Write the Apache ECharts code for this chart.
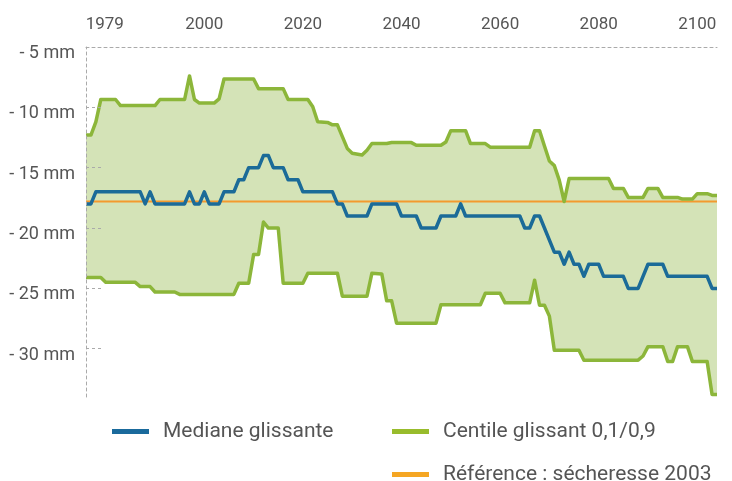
<!DOCTYPE html>
<html>
<head>
<meta charset="utf-8">
<script src="https://cdn.jsdelivr.net/npm/echarts@6/dist/echarts.min.js"></script>
<style>
html,body{margin:0;padding:0;background:#fff;}
#chart{width:732px;height:481px;}
</style>
</head>
<body>
<div id="chart"></div>
<script>
// ---- data (years, mm) ----
const p90Years = [1976,1977,1978,1979,1982,1983,1990,1991,1996,1997,1998,1999,2002,2003,2004,2010,2011,2016,2017,2021,2022,2023,2025,2026,2027,2029,2030,2032,2033,2034,2037,2038,2042,2043,2048,2049,2050,2053,2054,2057,2058,2066,2067,2068,2069,2070,2071,2072,2073,2074,2082,2083,2085,2086,2089,2090,2092,2093,2096,2097,2099,2100,2102,2103,2104];
const p90Values = [-12.3,-12.3,-11.2,-9.35,-9.35,-9.85,-9.85,-9.35,-9.35,-7.4,-9.35,-9.65,-9.65,-9.3,-7.65,-7.65,-8.45,-8.45,-9.35,-9.35,-9.95,-11.2,-11.25,-11.45,-11.45,-13.4,-13.8,-13.95,-13.55,-13.0,-13.0,-12.92,-12.92,-13.14,-13.14,-12.87,-11.93,-11.93,-13.0,-13.0,-13.3,-13.3,-11.93,-11.93,-13.2,-14.45,-14.83,-16.03,-17.8,-15.9,-15.9,-16.72,-16.72,-17.46,-17.46,-16.72,-16.72,-17.46,-17.46,-17.6,-17.6,-17.15,-17.15,-17.3,-17.3];

const p10Years = [1976,1979,1980,1986,1987,1989,1990,1994,1995,2006,2007,2009,2010,2011,2012,2013,2015,2016,2020,2021,2027,2028,2033,2034,2036,2037,2038,2039,2047,2048,2056,2057,2060,2061,2066,2067,2068,2069,2070,2071,2076,2077,2088,2089,2090,2093,2094,2095,2096,2098,2099,2102,2103,2104];
const p10Values = [-24.1,-24.1,-24.5,-24.5,-24.85,-24.85,-25.3,-25.3,-25.5,-25.5,-24.57,-24.57,-22.2,-22.2,-19.5,-20.0,-20.0,-24.57,-24.57,-23.74,-23.74,-25.65,-25.65,-23.74,-23.8,-26.03,-26.03,-27.88,-27.88,-26.36,-26.36,-25.4,-25.4,-26.2,-26.2,-24.32,-26.4,-26.4,-27.3,-30.12,-30.12,-30.95,-30.95,-30.6,-29.83,-29.83,-31.05,-31.05,-29.83,-29.83,-31.05,-31.05,-33.8,-33.8];

const medianYears = [1976,1977,1978,1987,1988,1989,1990,1996,1997,1998,1999,2000,2001,2003,2004,2006,2007,2008,2009,2011,2012,2013,2014,2016,2017,2019,2020,2026,2027,2028,2029,2033,2034,2039,2040,2043,2044,2047,2048,2051,2052,2053,2064,2065,2066,2067,2068,2071,2072,2073,2074,2075,2076,2077,2078,2080,2081,2085,2086,2088,2090,2093,2094,2102,2103,2104];
const medianValues = [-18,-18,-17,-17,-18,-17,-18,-18,-17,-18,-18,-17,-18,-18,-17,-17,-16,-16,-15,-15,-14,-14,-15,-15,-16,-16,-17,-17,-18,-18,-19,-19,-18,-18,-19,-19,-20,-20,-19,-19,-18,-19,-19,-20,-20,-19,-19,-22,-22,-23,-22,-23,-23,-24,-23,-23,-24,-24,-25,-25,-23,-23,-24,-24,-25,-25];

const refYears = [1976, 2104];
const refValues = [-17.8, -17.8];

const xTickValues = [1979, 2000, 2020, 2040, 2060, 2080, 2100];
const xTickLabels = ['1979', '2000', '2020', '2040', '2060', '2080', '2100'];
const yTickValues = [-30, -25, -20, -15, -10, -5];
const yTickLabels = ['- 30 mm', '- 25 mm', '- 20 mm', '- 15 mm', '- 10 mm', '- 5 mm'];

const seriesNames = ['Mediane glissante', 'Centile glissant 0,1/0,9', 'Référence : sécheresse 2003'];

// ---- helpers ----
const zip = (xs, ys) => xs.map((x, i) => [x, ys[i]]);
const p90 = zip(p90Years, p90Values);
const p10 = zip(p10Years, p10Values);
const med = zip(medianYears, medianValues);
const ref = zip(refYears, refValues);

const FONT = 'Roboto';
const chart = echarts.init(document.getElementById('chart'), null, {renderer: 'canvas'});

const legendBase = {
  orient: 'horizontal',
  icon: 'rect',
  itemWidth: 37,
  itemHeight: 5,
  selectedMode: false,
  textStyle: {fontFamily: FONT, fontSize: 21, color: '#555', padding: [0, 0, 0, 9]}
};

chart.setOption({
  animation: false,
  backgroundColor: '#fff',
  grid: {left: 86, right: 15, top: 47, bottom: 84, containLabel: false},
  legend: [
    Object.assign({}, legendBase, {data: [seriesNames[0]], left: 107, top: 416}),
    Object.assign({}, legendBase, {data: [seriesNames[1]], left: 387, top: 416}),
    Object.assign({}, legendBase, {data: [seriesNames[2]], left: 387, top: 459})
  ],
  xAxis: {
    type: 'value',
    position: 'top',
    min: 1976,
    max: 2104,
    z: 10,
    splitLine: {show: false},
    axisLine: {show: true, lineStyle: {color: '#aaa', type: [3, 3], width: 1}},
    axisTick: {show: false},
    axisLabel: {
      customValues: xTickValues,
      margin: 14,
      fontFamily: FONT,
      fontSize: 17,
      color: '#555',
      formatter: (v) => {
        const i = xTickValues.indexOf(v);
        const t = i >= 0 ? xTickLabels[i] : String(v);
        return i === 0 ? '{first|' + t + '}' : t;
      },
      rich: {first: {fontFamily: FONT, fontSize: 17, color: '#555', padding: [0, 0, 0, 8]}}
    }
  },
  yAxis: {
    type: 'value',
    min: -34,
    max: -5,
    z: 10,
    splitLine: {show: false},
    axisLine: {show: true, lineStyle: {color: '#aaa', type: [3, 3], width: 1}},
    axisTick: {show: true, customValues: yTickValues, inside: true, length: 15, lineStyle: {color: '#aaa', type: [3, 3], width: 1}},
    axisLabel: {
      customValues: yTickValues,
      margin: 11,
      fontFamily: FONT,
      fontSize: 18,
      color: '#555',
      formatter: (v) => {
        const i = yTickValues.indexOf(v);
        return i >= 0 ? '{lbl|' + yTickLabels[i] + '}' : '';
      },
      rich: {lbl: {fontFamily: FONT, fontSize: 18, color: '#555', padding: [13, 0, 0, 0]}}
    }
  },
  series: [
    {
      type: 'custom',
      name: 'band',
      silent: true,
      z: 1,
      clip: true,
      data: [[1976, -20]],
      encode: {x: 0, y: 1},
      renderItem: (params, api) => {
        const pts = p90.map(p => api.coord(p)).concat(p10.slice().reverse().map(p => api.coord(p)));
        return {type: 'polygon', shape: {points: pts}, style: {fill: '#d4e3b7', stroke: null}};
      }
    },
    {
      type: 'line', name: seriesNames[2], data: ref, z: 3,
      symbol: 'none', color: '#f5a623',
      lineStyle: {color: '#f39a2e', width: 2}
    },
    {
      type: 'line', name: seriesNames[1], data: p90, z: 4,
      symbol: 'none', color: '#98bc2c',
      lineStyle: {color: '#8cb63a', width: 3.5, join: 'round'}
    },
    {
      type: 'line', name: seriesNames[1], data: p10, z: 4,
      symbol: 'none', color: '#98bc2c',
      lineStyle: {color: '#8cb63a', width: 3.5, join: 'round'}
    },
    {
      type: 'line', name: seriesNames[0], data: med, z: 5,
      symbol: 'none', color: '#1a6a9c',
      lineStyle: {color: '#1b6b98', width: 3.5, join: 'round'}
    }
  ]
});
</script>
</body>
</html>
